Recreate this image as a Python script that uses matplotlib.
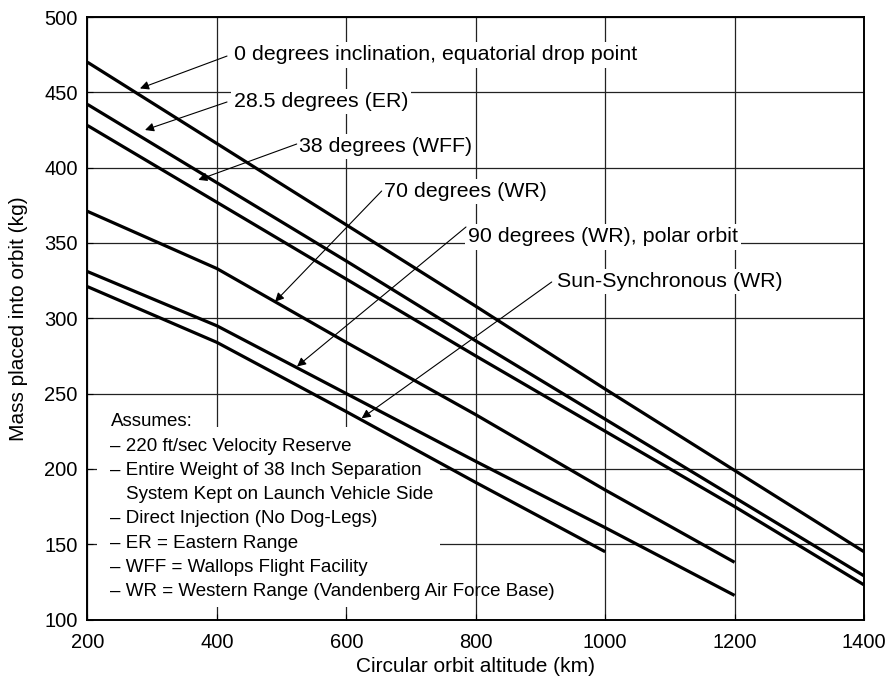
import matplotlib
matplotlib.use('Agg')
import matplotlib.pyplot as plt
from matplotlib.patches import Rectangle

plt.rcParams['font.family'] = ['Liberation Sans', 'DejaVu Sans']

# 数据：轨道高度 (km) 与入轨质量 (kg)
alt = [200, 400, 600, 800, 1000, 1200, 1400]
mass_0 = [470, 416, 362, 308, 253, 199, 145]
mass_28 = [442, 390, 338, 285, 233, 181, 129]
mass_38 = [428, 377, 326, 275, 225, 175, 123]
mass_70 = [371, 333, 284, 236, 186, 138]
mass_90 = [331, 295, 250, 205, 161, 116]
mass_ss = [321, 284, 238, 191, 145]

series = [mass_0, mass_28, mass_38, mass_70, mass_90, mass_ss]
labels = [
    "0 degrees inclination, equatorial drop point",
    "28.5 degrees (ER)",
    "38 degrees (WFF)",
    "70 degrees (WR)",
    "90 degrees (WR), polar orbit",
    "Sun-Synchronous (WR)",
]
notes = [
    "Assumes:",
    "\u2013 220 ft/sec Velocity Reserve",
    "\u2013 Entire Weight of 38 Inch Separation",
    "System Kept on Launch Vehicle Side",
    "\u2013 Direct Injection (No Dog-Legs)",
    "\u2013 ER = Eastern Range",
    "\u2013 WFF = Wallops Flight Facility",
    "\u2013 WR = Western Range (Vandenberg Air Force Base)",
]

# 标注位置 (文字起点, 箭头起点, 箭头终点)
label_pos = [(426, 474.8), (426, 443.8), (527, 413.9), (658, 384.0), (788, 354.1), (925, 324.3)]
arrow_from = [(415.6, 474.1), (415.6, 443.6), (523.3, 415.7), (654.6, 384.5), (784.9, 360.6), (917.4, 324.1)]
arrow_to = [(281.1, 452.6), (288.9, 425.0), (371.2, 391.9), (489.8, 311.0), (523.8, 268.0), (623.7, 233.6)]

fig = plt.figure(figsize=(8.91, 6.79), dpi=100)
ax = fig.add_axes([0.0982, 0.0876, 0.8715, 0.8873])

for ys in series:
    ax.plot(alt[:len(ys)], ys, color='black', lw=2.3, zorder=4, solid_capstyle='butt')

ax.set_xlim(200, 1400)
ax.set_ylim(100, 500)
ax.set_xticks(range(200, 1401, 200))
ax.set_yticks(range(100, 501, 50))
ax.grid(True, color='#222222', lw=0.9)
ax.set_axisbelow(True)
ax.tick_params(direction='in', length=4, labelsize=14.5, width=0.8)
ax.tick_params(axis='x', pad=10)
ax.tick_params(axis='y', pad=7)
for sp in ax.spines.values():
    sp.set_linewidth(1.4)

ax.set_xlabel("Circular orbit altitude (km)", fontsize=15)
ax.set_ylabel("Mass placed into orbit (kg)", fontsize=15)
ax.xaxis.set_label_coords(0.5, -0.063)
ax.yaxis.set_label_coords(-0.077, 0.5)

# 曲线标注
for lab, tp, a0, a1 in zip(labels, label_pos, arrow_from, arrow_to):
    ax.text(tp[0], tp[1], lab, fontsize=15.4, ha='left', va='center', zorder=3,
            bbox=dict(boxstyle='square,pad=0.15', fc='white', ec='none'))
    ax.annotate('', xy=a1, xytext=a0, zorder=5,
                arrowprops=dict(arrowstyle='-|>', color='black', lw=0.8,
                                mutation_scale=13, shrinkA=0, shrinkB=0))

# 假设说明框
ax.add_patch(Rectangle((0.0122, 0.0207), 0.4417, 0.2988, transform=ax.transAxes,
                       fc='white', ec='none', zorder=2))
y0 = 0.3283
step = 0.04033
for i, line in enumerate(notes):
    x = 0.0496 if i == 3 else 0.0296
    ax.text(x, y0 - i * step, line, transform=ax.transAxes, fontsize=13.5,
            ha='left', va='center', zorder=3,
            bbox=dict(boxstyle='square,pad=0.1', fc='white', ec='none') if i == 0 else None)

fig.savefig('out.png', dpi=100)
